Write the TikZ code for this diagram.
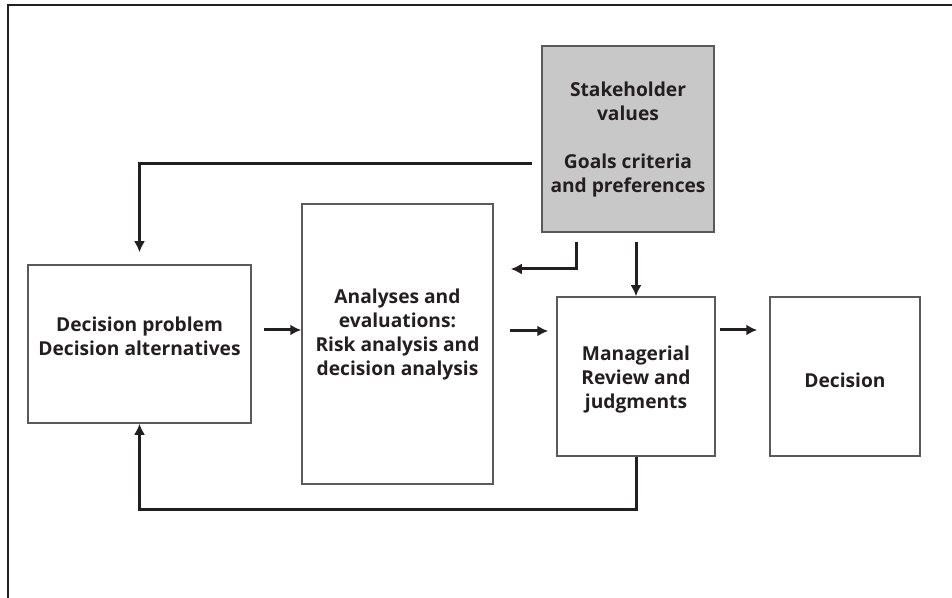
\documentclass[tikz,border=0pt]{standalone}
\usepackage{fontspec}
\setmainfont{Open Sans}
\usetikzlibrary{arrows.meta,calc}
\definecolor{ink}{HTML}{231F20}
\definecolor{boxline}{HTML}{5A5A5A}
\definecolor{stakefill}{HTML}{C8C8C8}
\tikzset{
  box/.style={draw=boxline, line width=0.75pt, rectangle, inner sep=0pt},
  lbl/.style={align=center, text=ink, font=\bfseries\fontsize{9.6}{12}\selectfont, inner sep=0pt},
  arr/.style={draw=ink, line width=1.5pt, -{Latex[length=5.5pt,width=5.5pt]}},
  frame/.style={draw=ink, line width=1.1pt}
}
\begin{document}
\begin{tikzpicture}[x=0.5pt,y=-0.5pt]
\useasboundingbox (0,0) rectangle (952,598);
\draw[frame] (8,598) -- (8,5) -- (952,5);
% boxes
\node[box, fill=stakefill, minimum width=86pt, minimum height=93pt] (stake) at (628,139) {};
\node[box, minimum width=111.5pt, minimum height=79pt] (prob) at (139.5,344) {};
\node[box, minimum width=95.5pt, minimum height=140pt] (anal) at (397.5,344) {};
\node[box, minimum width=79pt, minimum height=79.5pt] (mgr) at (636,376.5) {};
\node[box, minimum width=75pt, minimum height=79.5pt] (dec) at (845,376.5) {};
% texts
\node[lbl] (tstake) at (628,140) {Stakeholder\\values\\[12pt]Goals criteria\\and preferences};
\node[lbl] (tprob) at (139.5,336.5) {Decision problem\\Decision alternatives};
\node[lbl] (tanal) at (397.5,335) {Analyses and\\evaluations:\\Risk analysis and\\decision analysis};
\node[lbl] (tmgr) at (636,380) {Managerial\\Review and\\judgments};
\node[lbl] (tdec) at (845,380) {Decision};
% connectors
\draw[arr] ([shift={(-9,25)}]stake.west) -| ([yshift=6pt]prob.north);
\draw[arr] ([shift={(-52,9)}]stake.south) |- ($(anal.east)+(17,-75)$);
\draw[arr] ($(stake.south -| mgr.north)+(0,9)$) -- (mgr.north);
\draw[arr] ($(prob.east)+(12,-14)$) -- ($(anal.west)+(0,-14)$);
\draw[arr] ($(anal.east)+(16,-13)$) -- ($(anal.east -| mgr.west)+(-8,-13)$);
\draw[arr] ($(mgr.east)+(4,-46.5)$) -- ($(dec.west)+(-12,-46.5)$);
\draw[arr] (mgr.south) -- ++(0,53) -| (prob.south);
\end{tikzpicture}
\end{document}
